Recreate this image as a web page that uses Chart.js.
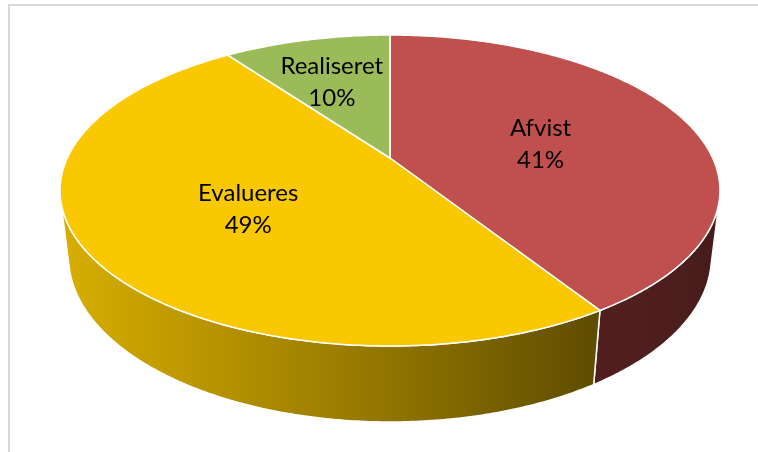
<!DOCTYPE html>
<html>
<head>
<meta charset="utf-8">
<script src="https://cdn.jsdelivr.net/npm/chart.js@4/dist/chart.umd.min.js"></script>
<style>
  html, body { margin: 0; padding: 0; background: #fff; }
  #wrap { position: relative; width: 758px; height: 452px; overflow: hidden; }
  #frame { position: absolute; left: 8px; top: 4px; width: 800px; height: 500px;
           border: 2px solid #d9d9d9; box-sizing: border-box; }
  #c { position: absolute; left: 0; top: 0; }
</style>
</head>
<body>
<div id="wrap">
  <div id="frame"></div>
  <canvas id="c" width="758" height="452"></canvas>
</div>
<script>
// Status of proposals (share in percent)
const categories = ['Afvist', 'Evalueres', 'Realiseret'];
const shares = [41, 49, 10];

// Slice colours: top face and side wall gradient (left -> right)
const topColors = ['#C0504D', '#F9C800', '#9BBB59'];
const sideColors = [
  ['#521F1F', '#4E1E1E', '#471B1B'],
  ['#D8AE00', '#9E7F00', '#5E4C00'],
  ['#7E9948', '#657A39', '#4C5C2B']
];

// Camera / disc geometry for the tilted, perspective-projected pie
const CX = 390, CY = 158;        // projected centre of the top face
const FOCAL = 1370;              // focal length in px
const DIST = 4.246;              // camera distance in disc radii
const TILT = 27.44 * Math.PI / 180;
const THICK = 0.2333;            // disc thickness in radii
const SIN_T = Math.sin(TILT), COS_T = Math.cos(TILT);

// Label typography
const LABEL_FONT = '24px Lato, "Open Sans", sans-serif';
const LINE_GAP = 32, CAP_H = 17, LABEL_DY = 6;

// World point on a circle of radius r at chart angle a (0 = 3 o'clock, clockwise),
// at height h (0 = top face, -THICK = bottom face), projected to the canvas.
function project(a, r, h) {
  const X = r * Math.cos(a), Z = r * Math.sin(a);
  const yc = h * COS_T - Z * SIN_T;
  const zc = h * SIN_T + Z * COS_T;
  const s = FOCAL / (DIST - zc);
  return [CX + X * s, CY - yc * s];
}

// Angular range of the side wall that faces the viewer
const SIDE_A = Math.asin(1 / (DIST * COS_T));
const SIDE_MIN = SIDE_A, SIDE_MAX = Math.PI - SIDE_A;

function arcPoints(a1, a2, h) {
  const n = Math.max(4, Math.ceil(Math.abs(a2 - a1) / 0.01));
  const pts = [];
  for (let k = 0; k <= n; k++) pts.push(project(a1 + (a2 - a1) * k / n, 1, h));
  return pts;
}

function topPolygon(a1, a2) {
  return [project(0, 0, 0)].concat(arcPoints(a1, a2, 0));
}

function inside(x, y, poly) {
  let c = false;
  for (let i = 0, j = poly.length - 1; i < poly.length; j = i++) {
    const [xi, yi] = poly[i], [xj, yj] = poly[j];
    if ((yi > y) !== (yj > y) && x < (xj - xi) * (y - yi) / (yj - yi) + xi) c = !c;
  }
  return c;
}

function tracePoly(ctx, poly) {
  ctx.beginPath();
  ctx.moveTo(poly[0][0], poly[0][1]);
  for (let i = 1; i < poly.length; i++) ctx.lineTo(poly[i][0], poly[i][1]);
  ctx.closePath();
}

// Place a two-line label on the slice's mid-angle, moving it outwards
// until both text lines sit inside the slice's top face.
function labelAnchor(arc, w1, w2) {
  const mid = (arc.startAngle + arc.endAngle) / 2;
  const poly = topPolygon(arc.startAngle, arc.endAngle);
  let best = null;
  for (let r = 0.5; r <= 0.95; r += 0.01) {
    const [x, y0] = project(mid, r, 0);
    const y = y0 + LABEL_DY;
    if (!best) best = [x, y];
    const b1 = y - 7.5, b2 = y + 24.5;
    const boxes = [[w1, b1 - CAP_H, b1], [w2, b2 - CAP_H, b2]];
    const ok = boxes.every(([w, t, b]) =>
      inside(x - w / 2, t, poly) && inside(x + w / 2, t, poly) &&
      inside(x - w / 2, b, poly) && inside(x + w / 2, b, poly));
    if (ok) return [x, y];
  }
  return best;
}

const pie3d = {
  id: 'pie3d',
  beforeDatasetDraw(chart, args) {
    const ctx = chart.ctx;
    const arcs = chart.getDatasetMeta(args.index).data;
    ctx.save();
    ctx.lineJoin = 'round';
    ctx.strokeStyle = '#ffffff';
    ctx.lineWidth = 1.5;

    // side walls (front part only)
    arcs.forEach((arc, i) => {
      const a1 = Math.max(arc.startAngle, SIDE_MIN);
      const a2 = Math.min(arc.endAngle, SIDE_MAX);
      if (a2 <= a1) return;
      const poly = arcPoints(a1, a2, 0).concat(arcPoints(a2, a1, -THICK));
      const xs = poly.map(p => p[0]);
      const g = ctx.createLinearGradient(Math.min(...xs), 0, Math.max(...xs), 0);
      const st = sideColors[i];
      st.forEach((c, k) => g.addColorStop(k / (st.length - 1), c));
      tracePoly(ctx, poly);
      ctx.fillStyle = g;
      ctx.fill();
      ctx.stroke();
    });

    // top faces
    arcs.forEach((arc) => {
      tracePoly(ctx, topPolygon(arc.startAngle, arc.endAngle));
      ctx.fillStyle = arc.options.backgroundColor;
      ctx.fill();
      ctx.stroke();
    });
    ctx.restore();
    return false;
  },
  afterDatasetsDraw(chart) {
    const ctx = chart.ctx;
    const meta = chart.getDatasetMeta(0);
    const values = chart.data.datasets[0].data;
    const total = values.reduce((s, v) => s + v, 0);
    ctx.save();
    ctx.font = LABEL_FONT;
    ctx.fillStyle = '#000000';
    ctx.textAlign = 'center';
    ctx.textBaseline = 'alphabetic';
    meta.data.forEach((arc, i) => {
      const name = chart.data.labels[i];
      const pct = Math.round(values[i] / total * 100) + '%';
      const [x, y] = labelAnchor(arc, ctx.measureText(name).width, ctx.measureText(pct).width);
      ctx.fillText(name, x, y - 7.5);
      ctx.fillText(pct, x, y + 24.5);
    });
    ctx.restore();
  }
};

new Chart(document.getElementById('c'), {
  type: 'pie',
  data: {
    labels: categories,
    datasets: [{ data: shares, backgroundColor: topColors, borderColor: '#ffffff', borderWidth: 1.5 }]
  },
  options: {
    responsive: false,
    animation: false,
    events: [],
    plugins: { legend: { display: false }, tooltip: { enabled: false } }
  },
  plugins: [pie3d]
});
</script>
</body>
</html>
